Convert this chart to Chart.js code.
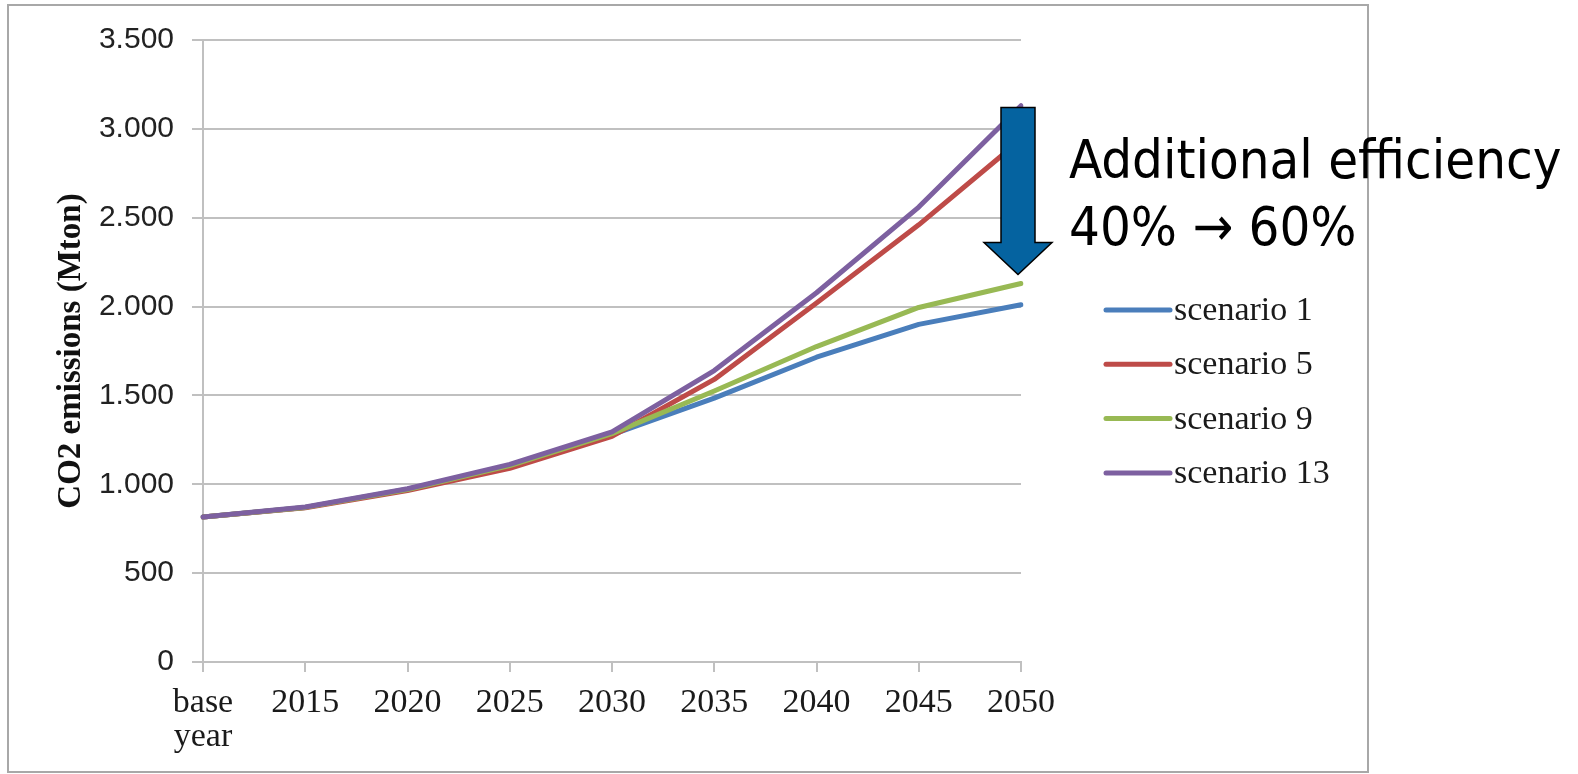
<!DOCTYPE html>
<html>
<head>
<meta charset="utf-8">
<script src="https://cdn.jsdelivr.net/npm/chart.js@4.4.1/dist/chart.umd.min.js"></script>
<style>
  html, body { margin: 0; padding: 0; background: #fff; }
</style>
</head>
<body>
<canvas id="myChart" width="1578" height="774"></canvas>
<script>
var years = [['base', 'year'], '2015', '2020', '2025', '2030', '2035', '2040', '2045', '2050'];
var scenarioNames = ['scenario 1', 'scenario 5', 'scenario 9', 'scenario 13'];
var scenario1 = [816, 870, 972, 1105, 1280, 1485, 1715, 1900, 2010];
var scenario5 = [816, 868, 965, 1090, 1270, 1590, 2020, 2460, 2940];
var scenario9 = [816, 870, 970, 1105, 1285, 1525, 1775, 1995, 2130];
var scenario13 = [816, 872, 975, 1112, 1295, 1640, 2078, 2560, 3130];
var lineColors = ['#4A7EBB', '#BE4B48', '#98B954', '#7D60A0'];
var yMin = 0, yMax = 3500, yStep = 500;

// efficiency arrow at the last year, from/to in Mton
var arrowFrom = 3120, arrowTo = 2180;
var noteLines = ['Additional efficiency', '40% \u2192 60%'];

var gridGray = '#c0c0c0';

function dotThousands(v) {
  return String(v).replace(/\B(?=(\d{3})+(?!\d))/g, '.');
}

var series = [scenario1, scenario5, scenario9, scenario13];
var datasets = [];
for (var i = 0; i < series.length; i++) {
  datasets.push({
    label: scenarioNames[i],
    data: series[i],
    borderColor: lineColors[i],
    backgroundColor: lineColors[i],
    borderWidth: 5,
    pointRadius: 0,
    tension: 0,
    borderCapStyle: 'round',
    borderJoinStyle: 'round',
    fill: false,
    order: series.length - i
  });
}

var framePlugin = {
  id: 'frame',
  beforeDraw: function(chart) {
    var ctx = chart.ctx;
    ctx.save();
    ctx.fillStyle = '#fff';
    ctx.fillRect(0, 0, chart.width, chart.height);
    ctx.strokeStyle = '#a8a8a8';
    ctx.lineWidth = 2;
    ctx.strokeRect(8, 5, 1360, 767);
    ctx.restore();
  }
};

var sideLegend = {
  id: 'sideLegend',
  afterDraw: function(chart) {
    var ctx = chart.ctx;
    var sets = chart.data.datasets;
    ctx.save();
    ctx.font = '34px "Liberation Serif"';
    ctx.textBaseline = 'middle';
    ctx.textAlign = 'left';
    for (var k = 0; k < sets.length; k++) {
      var y = 310 + k * 54.3;
      ctx.strokeStyle = sets[k].borderColor;
      ctx.lineWidth = 5;
      ctx.lineCap = 'round';
      ctx.beginPath();
      ctx.moveTo(1106, y);
      ctx.lineTo(1170, y);
      ctx.stroke();
      ctx.fillStyle = '#1a1a1a';
      ctx.fillText(sets[k].label, 1174, y + 1);
    }
    ctx.restore();
  }
};

var arrowNote = {
  id: 'arrowNote',
  afterDatasetsDraw: function(chart) {
    var ctx = chart.ctx;
    var xs = chart.scales.x, ys = chart.scales.y;
    var cx = xs.getPixelForValue(years.length - 1) - 3;
    var top = ys.getPixelForValue(arrowFrom);
    var tip = ys.getPixelForValue(arrowTo);
    var shaftHalf = 17, headHalf = 34, headLen = 32;
    ctx.save();
    ctx.beginPath();
    ctx.moveTo(cx - shaftHalf, top);
    ctx.lineTo(cx + shaftHalf, top);
    ctx.lineTo(cx + shaftHalf, tip - headLen);
    ctx.lineTo(cx + headHalf, tip - headLen);
    ctx.lineTo(cx, tip);
    ctx.lineTo(cx - headHalf, tip - headLen);
    ctx.lineTo(cx - shaftHalf, tip - headLen);
    ctx.closePath();
    ctx.fillStyle = '#0563A0';
    ctx.fill();
    ctx.strokeStyle = '#000';
    ctx.lineWidth = 1.5;
    ctx.stroke();

    // narrow face if the condensed DejaVu is present, plain one otherwise
    ctx.fillStyle = '#000';
    ctx.textAlign = 'left';
    ctx.textBaseline = 'alphabetic';
    ctx.font = '54px "DejaVu Sans"';
    if ('fontStretch' in ctx) ctx.fontStretch = 'condensed';
    var w = ctx.measureText(noteLines[0]).width;
    if (w > 520) {
      if ('fontStretch' in ctx) ctx.fontStretch = 'normal';
      ctx.font = '48.5px "DejaVu Sans"';
    }
    ctx.fillText(noteLines[0], cx + 51, tip - 97);
    ctx.fillText(noteLines[1], cx + 51, tip - 30);
    ctx.restore();
  }
};

var config = {
  type: 'line',
  data: {
    labels: years,
    datasets: datasets
  },
  options: {
    responsive: false,
    animation: false,
    devicePixelRatio: 1,
    layout: { padding: { left: 8, top: 40, right: 557, bottom: 0 } },
    plugins: {
      legend: { display: false },
      tooltip: { enabled: false }
    },
    scales: {
      x: {
        offset: false,
        grid: { drawOnChartArea: false, drawTicks: true, tickLength: 10, color: gridGray, lineWidth: 2 },
        border: { color: gridGray, width: 2 },
        ticks: {
          color: '#1a1a1a',
          font: { family: '"Liberation Serif"', size: 34, lineHeight: 1.0 },
          padding: 14,
          maxRotation: 0,
          autoSkip: false
        },
        afterFit: function(s) { s.height = 112; }
      },
      y: {
        min: yMin,
        max: yMax,
        grid: { color: gridGray, lineWidth: 2, tickLength: 11 },
        border: { color: gridGray, width: 2 },
        ticks: {
          stepSize: yStep,
          color: '#222',
          font: { family: '"Liberation Sans"', size: 30 },
          padding: 18,
          callback: function(v) { return dotThousands(v); }
        },
        title: {
          display: true,
          text: 'CO2 emissions (Mton)',
          color: '#111',
          font: { family: '"Liberation Serif"', size: 33, weight: 'bold' },
          padding: { top: 44, bottom: 0 }
        },
        afterFit: function(s) { s.width = 195; }
      }
    }
  },
  plugins: [framePlugin, sideLegend, arrowNote]
};

var ctx = document.getElementById('myChart').getContext('2d');
window.myLine = new Chart(ctx, config);
</script>
</body>
</html>
